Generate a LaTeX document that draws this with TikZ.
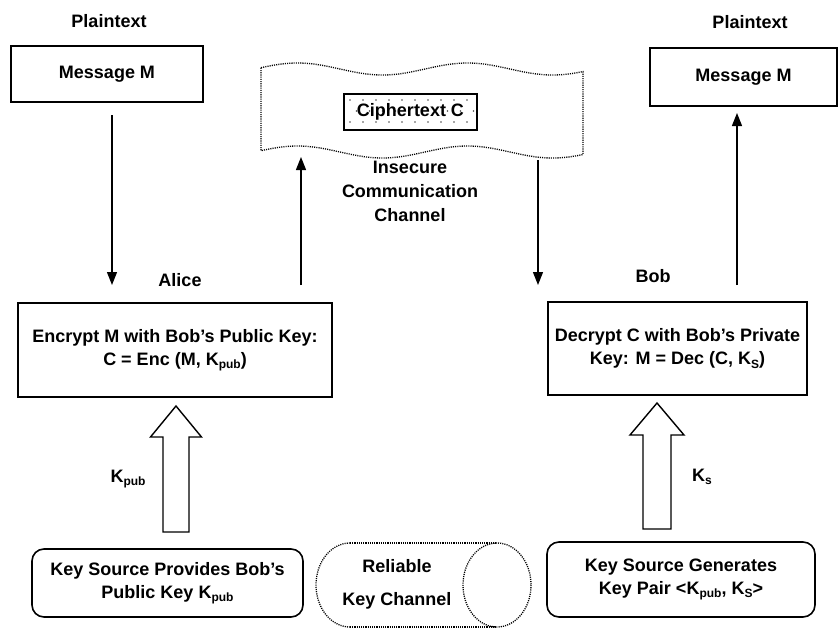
\documentclass[tikz,border=0pt]{standalone}
\usepackage{fontspec}
\setmainfont{Liberation Sans}
\usetikzlibrary{arrows.meta}
\newcommand\ksub[1]{\raisebox{-3.5pt}{\fontsize{12}{12}\selectfont #1}}
\begin{document}
\begin{tikzpicture}[x=1pt,y=-1pt,
  font=\fontsize{18}{23}\selectfont\bfseries,
  box/.style={draw, line width=1.6pt, align=center, inner sep=0pt},
  rbox/.style={box, rounded corners=12pt},
  lbl/.style={align=center, inner sep=0pt},
  arr/.style={line width=1.3pt, -{Triangle[length=13pt,width=10pt]}},
  dotline/.style={line width=1.3pt, dash pattern=on 1.1pt off 1.1pt},
  blockarrow/.style={draw, line width=1.4pt, fill=white, line join=miter}]
\useasboundingbox (0,0) rectangle (839,630);

% plaintext labels
\node[lbl] (ptL) at (109,21) {Plaintext};
\node[lbl] (ptR) at (750,22) {Plaintext};

% message boxes
\node[box, minimum width=192pt, minimum height=56pt] (msgL) at (107,74) {Message M};
\node[box, minimum width=187pt, minimum height=58pt] (msgR) at (743.5,77) {Message M};

% insecure channel banner
\draw[dotline] plot[domain=261:583, samples=90] (\x, {69+6*sin(2.1176*(\x-340))})
  -- plot[domain=583:261, samples=90] (\x, {152+6*sin(2.1176*(\x-340))}) -- cycle;
\begin{scope}
  \clip (344,94) rectangle (477,130);
  \foreach \ry/\ox in {100/0, 111/6.5, 122/0}{
    \foreach \c in {0,...,10}{
      \fill[black!70] ({350+\ox+13*\c},\ry) circle[radius=0.9];
    }
  }
\end{scope}
\node[box, line width=1.4pt, minimum width=133pt, minimum height=36pt] (cipher) at (410.5,112) {Ciphertext C};
\node[lbl, font=\fontsize{18}{24}\selectfont\bfseries] (chan) at (410,191) {Insecure\\Communication\\Channel};

% party labels
\node[lbl] (alice) at (180,280) {Alice};
\node[lbl] (bob) at (653,276) {Bob};

% encrypt / decrypt boxes
\node[box, minimum width=314pt, minimum height=94pt] (enc) at (175,350)
  {Encrypt M with Bob’s Public Key:\\C = Enc (M, K\ksub{pub})};
\node[box, minimum width=259pt, minimum height=93pt] (dec) at (677.5,348.5)
  {Decrypt C with Bob’s Private\\Key: M = Dec (C, K\ksub{S})};

% thin arrows
\coordinate (a1s) at (112,115); \coordinate (a1e) at (112,285);
\coordinate (a2s) at (301,285); \coordinate (a2e) at (301,157);
\coordinate (a3s) at (538,160); \coordinate (a3e) at (538,285);
\coordinate (a4s) at (737,285); \coordinate (a4e) at (737,113);
\draw[arr] (a1s) -- (a1e);
\draw[arr] (a2s) -- (a2e);
\draw[arr] (a3s) -- (a3e);
\draw[arr] (a4s) -- (a4e);

% block arrows
\draw[blockarrow] (163,532) -- (163,437) -- (150.5,437) -- (176,406) -- (201.5,437)
  -- (189,437) -- (189,532) -- cycle;
\draw[blockarrow] (643,529) -- (643,435) -- (630,435) -- (657,403) -- (684,435)
  -- (671,435) -- (671,529) -- cycle;
\node[lbl] (kpub) at (128,479) {K\ksub{pub}};
\node[lbl] (ks) at (702,477) {K\ksub{s}};

% key sources
\node[rbox, minimum width=271pt, minimum height=68pt] (srcL) at (167.5,583)
  {Key Source Provides Bob’s\\Public Key K\ksub{pub}};
\node[rbox, minimum width=268pt, minimum height=75pt] (srcR) at (681,579.5)
  {Key Source Generates\\Key Pair <K\ksub{pub},\ K\ksub{S}>};

% reliable key channel (cylinder)
\draw[dotline] plot[domain=90:270, samples=60] ({350+34*cos(\x)}, {585-42*sin(\x)});
\draw[dotline] (350,543) -- (497,543);
\draw[dotline] (350,627) -- (497,627);
\draw[dotline] (497,585) ellipse [x radius=34, y radius=42];
\node[lbl, font=\fontsize{18}{33}\selectfont\bfseries] (keych) at (397,584) {Reliable\\Key Channel};
\end{tikzpicture}
\end{document}
